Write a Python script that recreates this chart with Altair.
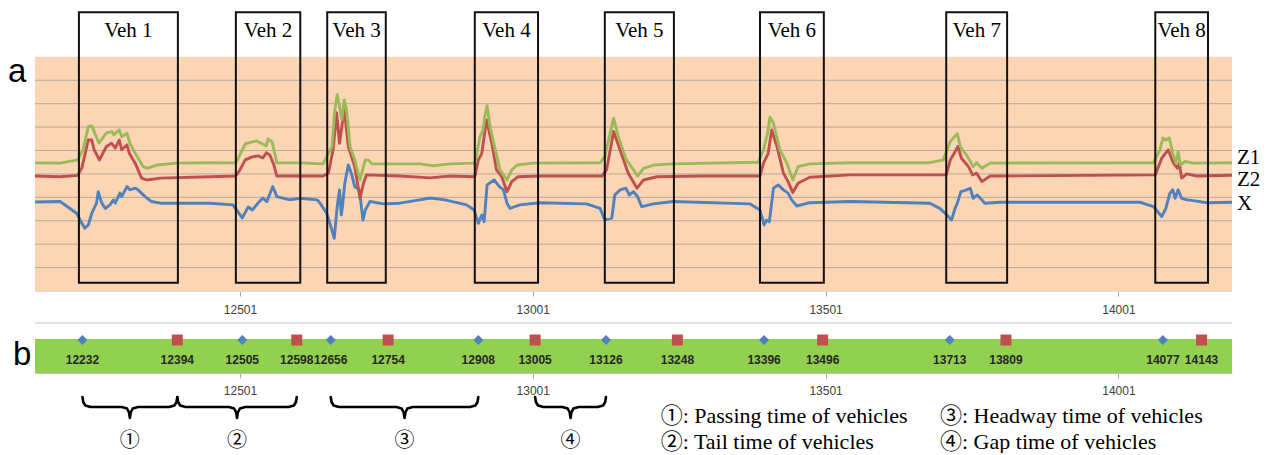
import altair as alt
import pandas as pd

# ---------------- data ----------------
# sample index (time) and signal level of the three magnetic axes
z1_t = [12151, 12194, 12224, 12233, 12242, 12248, 12253, 12260, 12273, 12282, 12286, 12295, 12299, 12308, 12313, 12322, 12336, 12342, 12359, 12393, 12450,
        12494, 12501, 12510, 12522, 12530, 12539, 12546, 12549, 12556, 12559, 12564, 12604,
        12643, 12658, 12663, 12667, 12671, 12675, 12679, 12683, 12689, 12697, 12706, 12709, 12715, 12720, 12726, 12808, 12831, 12860,
        12902, 12911, 12916, 12919, 12923, 12928, 12937, 12945, 12957, 12965, 12974, 13002,
        13116, 13124, 13139, 13147, 13161, 13173, 13180, 13190, 13207, 13241,
        13386, 13395, 13402, 13406, 13412, 13423, 13435, 13445, 13454, 13474, 13543,
        13679, 13702, 13714, 13719, 13726, 13731, 13745, 13753, 13759, 13768, 13782,
        14061, 14072, 14077, 14082, 14088, 14094, 14099, 14103, 14107, 14115, 14129, 14195]
z1_v = [5.47, 5.46, 5.60, 6.03, 7.02, 7.05, 6.75, 6.32, 6.75, 6.81, 6.67, 6.88, 6.59, 6.74, 6.31, 5.88, 5.31, 5.24, 5.38, 5.46, 5.48,
        5.47, 5.81, 6.28, 6.37, 6.41, 6.28, 6.20, 6.50, 6.37, 6.03, 5.47, 5.47,
        5.43, 6.17, 7.74, 8.38, 7.88, 7.31, 8.16, 7.74, 6.17, 5.60, 4.74, 5.04, 5.60, 5.60, 5.43, 5.43, 5.35, 5.43,
        5.46, 6.59, 6.88, 7.45, 7.91, 7.02, 6.03, 5.17, 4.74, 5.17, 5.38, 5.46,
        5.48, 5.74, 7.38, 6.59, 5.60, 5.17, 4.91, 5.24, 5.38, 5.43,
        5.50, 6.03, 6.74, 7.42, 7.17, 6.03, 5.46, 4.74, 5.31, 5.43, 5.48,
        5.48, 5.60, 6.38, 6.53, 6.71, 6.17, 5.67, 5.31, 5.48, 5.24, 5.46,
        5.48, 6.03, 6.53, 6.45, 6.53, 5.88, 5.46, 5.95, 5.38, 5.53, 5.46, 5.48]

z2_t = [12151, 12194, 12224, 12231, 12242, 12248, 12252, 12261, 12273, 12282, 12288, 12295, 12299, 12308, 12312, 12322, 12333, 12342, 12365, 12450,
        12494, 12501, 12510, 12522, 12532, 12540, 12546, 12552, 12559, 12564, 12604,
        12643, 12652, 12660, 12666, 12671, 12675, 12679, 12686, 12697, 12706, 12712, 12717, 12774, 12826, 12860,
        12902, 12908, 12914, 12922, 12931, 12939, 12948, 12957, 12965, 12976, 13013,
        13119, 13127, 13139, 13150, 13164, 13179, 13190, 13213, 13287,
        13389, 13395, 13403, 13409, 13418, 13429, 13437, 13445, 13454, 13474, 13543,
        13707, 13714, 13722, 13727, 13733, 13745, 13752, 13759, 13768, 13782,
        14064, 14075, 14086, 14095, 14102, 14105, 14109, 14118, 14135, 14195]
z2_v = [4.91, 4.88, 4.94, 5.26, 6.45, 6.45, 6.03, 5.60, 6.17, 6.31, 6.10, 6.45, 6.03, 6.24, 5.88, 5.46, 4.82, 4.74, 4.82, 4.88,
        4.91, 5.17, 5.60, 5.73, 5.77, 5.68, 5.90, 5.81, 5.38, 4.91, 4.91,
        4.91, 5.03, 6.03, 7.61, 6.31, 7.02, 7.82, 6.17, 5.31, 3.96, 4.60, 4.96, 4.91, 4.83, 4.91,
        4.88, 5.60, 5.88, 7.31, 6.31, 5.17, 4.88, 4.24, 4.67, 4.88, 4.91,
        4.91, 5.17, 6.81, 6.03, 5.03, 4.39, 4.74, 4.88, 4.91,
        4.91, 5.46, 5.88, 6.88, 6.17, 5.03, 4.67, 4.20, 4.60, 4.86, 4.96,
        4.96, 5.60, 5.95, 6.17, 5.67, 5.31, 4.96, 5.03, 4.67, 4.91,
        4.96, 5.67, 6.03, 5.46, 5.24, 5.46, 4.82, 5.00, 4.91, 4.94]

x_t = [12151, 12194, 12222, 12231, 12236, 12242, 12248, 12256, 12259, 12265, 12271, 12279, 12285, 12288, 12296, 12299, 12308, 12313, 12322, 12327, 12339, 12350, 12365, 12450,
       12489, 12505, 12515, 12522, 12532, 12540, 12547, 12557, 12564, 12586, 12604, 12633,
       12638, 12649, 12658, 12662, 12667, 12671, 12674, 12676, 12680, 12686, 12692, 12697, 12705, 12711, 12715, 12723, 12746, 12774, 12808, 12826, 12851,
       12888, 12901, 12908, 12914, 12918, 12923, 12935, 12944, 12951, 12957, 12962, 12979, 13013,
       13093, 13116, 13124, 13136, 13141, 13150, 13160, 13166, 13173, 13180, 13187, 13207, 13241,
       13372, 13389, 13396, 13400, 13405, 13412, 13420, 13429, 13437, 13443, 13452, 13474, 13543,
       13679, 13696, 13708, 13716, 13722, 13726, 13732, 13742, 13748, 13753, 13760, 13773, 13799,
       14038, 14061, 14075, 14082, 14089, 14094, 14098, 14103, 14109, 14118, 14129, 14152, 14195]
x_v = [3.80, 3.82, 3.32, 2.89, 2.68, 2.82, 3.32, 3.75, 4.24, 3.75, 3.53, 3.68, 3.89, 3.75, 4.18, 4.03, 4.46, 4.32, 4.39, 4.32, 4.03, 3.82, 3.75, 3.75,
       3.68, 3.12, 3.59, 3.46, 3.76, 3.97, 3.82, 4.46, 4.03, 3.89, 3.96, 3.89,
       3.75, 3.32, 2.61, 2.25, 3.60, 4.32, 3.25, 3.60, 4.60, 5.38, 4.96, 4.46, 4.32, 3.03, 3.46, 3.82, 3.72, 3.75, 3.89, 3.97, 3.89,
       3.68, 3.46, 2.89, 3.25, 2.96, 4.53, 4.74, 4.46, 4.32, 3.75, 3.53, 3.68, 3.77,
       3.72, 3.53, 3.03, 3.11, 4.10, 4.32, 4.39, 4.10, 4.24, 4.03, 3.60, 3.72, 3.82,
       3.72, 3.46, 2.82, 3.03, 2.96, 4.39, 4.53, 4.32, 4.18, 3.89, 3.63, 3.77, 3.82,
       3.75, 3.53, 3.25, 3.03, 3.53, 3.75, 4.24, 4.32, 4.39, 3.96, 4.10, 3.75, 3.79,
       3.79, 3.60, 3.18, 3.53, 4.18, 4.32, 3.96, 4.32, 3.96, 3.89, 3.86, 3.77, 3.79]

veh_names = ["Veh 1", "Veh 2", "Veh 3", "Veh 4", "Veh 5", "Veh 6", "Veh 7", "Veh 8"]
box_start = [12226, 12494, 12650, 12902, 13124, 13389, 13707, 14064]
box_end = [12395, 12604, 12750, 13010, 13242, 13498, 13811, 14154]

start_times = [12232, 12505, 12656, 12908, 13126, 13396, 13713, 14077]
end_times = [12394, 12598, 12754, 13005, 13248, 13496, 13809, 14143]

tick_values = [12501, 13001, 13501, 14001]
grid_levels = [1, 2, 3, 4, 5, 6, 7, 8, 9]

brace_from = [12232, 12394, 12656, 13005]
brace_to = [12394, 12598, 12908, 13126]
brace_marks = ["①", "②", "③", "④"]
legend_lines = ["①: Passing time of vehicles", "②: Tail time of vehicles",
                "③: Headway time of vehicles", "④: Gap time of vehicles"]

assert len(z1_t) == len(z1_v) and len(z2_t) == len(z2_v) and len(x_t) == len(x_v)

# ---------------- layout / style ----------------
W = 1197
HA = 281
HB = 127
SERIF = "Liberation Serif"
SERIF_CJK = "'Liberation Serif', 'Noto Sans CJK JP'"
CJK = "Noto Sans CJK JP"
SANS = "Liberation Sans"

xs = alt.Scale(domain=[12151, 14195], nice=False, zero=False)
ysA = alt.Scale(domain=[0, 12], nice=False, zero=False)
ysB = alt.Scale(domain=[-77, 50], nice=False, zero=False)


def x_axis(offset, pad, domain_color):
    return alt.Axis(values=tick_values, format="d", title=None, grid=False,
                    tickSize=5, tickColor="#A6A6A6", domainColor=domain_color,
                    labelFont=SANS, labelFontSize=12, labelColor="#404040",
                    labelPadding=pad, offset=offset, labelFlush=False)


axA = x_axis(0, 8, "#D9D9D9")
axB = x_axis(-77, 7, "#BFBFBF")
one = pd.DataFrame({"k": [0]})

# ---------------- panel a ----------------
bg = alt.Chart(one).mark_rect(color="#FCD5B4").encode(
    x=alt.value(0), x2=alt.value(W),
    y=alt.Y(datum=0, scale=ysA, axis=None), y2=alt.datum(10))

grid = alt.Chart(pd.DataFrame({"g": grid_levels})).mark_rule(
    color="#B5A89D", strokeWidth=1).encode(y=alt.Y("g:Q", scale=ysA, axis=None))

series = [("X", x_t, x_v, "#4F81BD", 2), ("Z2", z2_t, z2_v, "#C0504D", 4.5), ("Z1", z1_t, z1_v, "#9BBB59", -5)]
line_layers = []
label_layers = []
for name, t, v, col, dy in series:
    df = pd.DataFrame({"t": t, "v": v})
    line_layers.append(
        alt.Chart(df).mark_line(color=col, strokeWidth=2.9, strokeJoin="round").encode(
            x=alt.X("t:Q", scale=xs, axis=axA),
            y=alt.Y("v:Q", scale=ysA, axis=None)))
    last = pd.DataFrame({"t": [t[-1]], "v": [v[-1]], "s": [name]})
    label_layers.append(
        alt.Chart(last).mark_text(align="left", baseline="middle", dx=5, dy=dy,
                                  font=SERIF, fontSize=21, color="black").encode(
            x=alt.X("t:Q", scale=xs, axis=axA),
            y=alt.Y("v:Q", scale=ysA, axis=None),
            text="s:N"))

vdf = pd.DataFrame({"name": veh_names, "start": box_start, "end": box_end})
vdf["mid"] = (vdf["start"] + vdf["end"]) / 2

boxes = alt.Chart(vdf).mark_rect(fillOpacity=0, stroke="#111111", strokeWidth=2).encode(
    x=alt.X("start:Q", scale=xs, axis=axA), x2="end:Q",
    y=alt.Y(datum=0.35, scale=ysA, axis=None), y2=alt.datum(11.9))

veh_text = alt.Chart(vdf).mark_text(font=SERIF, fontSize=21, baseline="alphabetic", color="black").encode(
    x=alt.X("mid:Q", scale=xs, axis=axA),
    y=alt.Y(datum=10.85, scale=ysA, axis=None),
    text="name:N")

a_label = alt.Chart(one).mark_text(text="a", font=SANS, fontSize=33, align="left",
                                   baseline="alphabetic", color="black").encode(
    x=alt.value(-27), y=alt.value(72))

panel_a = alt.layer(bg, grid, *line_layers, boxes, veh_text, *label_layers, a_label).properties(
    width=W, height=HA)

# ---------------- panel b ----------------
top_rule = alt.Chart(one).mark_rule(color="#C8C8C8", strokeWidth=1).encode(
    y=alt.Y(datum=50, scale=ysB, axis=None))

band = alt.Chart(one).mark_rect(color="#92D050").encode(
    x=alt.value(0), x2=alt.value(W),
    y=alt.Y(datum=0, scale=ysB, axis=None), y2=alt.datum(34))

diamonds = alt.Chart(pd.DataFrame({"t": start_times})).mark_point(
    shape="diamond", filled=True, size=100, color="#4F81BD", opacity=1).encode(
    x=alt.X("t:Q", scale=xs, axis=axB), y=alt.Y(datum=33, scale=ysB, axis=None))

squares = alt.Chart(pd.DataFrame({"t": end_times})).mark_point(
    shape="square", filled=True, size=121, color="#C0504D", opacity=1).encode(
    x=alt.X("t:Q", scale=xs, axis=axB), y=alt.Y(datum=33, scale=ysB, axis=None))

time_labels = alt.Chart(pd.DataFrame({"t": start_times + end_times})).mark_text(
    font=SANS, fontSize=12, fontWeight="bold", color="#262626", baseline="middle").encode(
    x=alt.X("t:Q", scale=xs, axis=axB), y=alt.Y(datum=13, scale=ysB, axis=None),
    text=alt.Text("t:Q", format="d"))

# curly braces built from their start / end times
rows = []
d = 14
for i, (a, b) in enumerate(zip(brace_from, brace_to)):
    m = (a + b) / 2
    pts = [(a, -24), (a + 0.1 * d, -29), (a + 0.35 * d, -32.5), (a + d, -34),
           (m - d, -34), (m - 0.35 * d, -35.5), (m - 0.1 * d, -39.5), (m, -45),
           (m + 0.1 * d, -39.5), (m + 0.35 * d, -35.5), (m + d, -34),
           (b - d, -34), (b - 0.35 * d, -32.5), (b - 0.1 * d, -29), (b, -24)]
    for k, (px, py) in enumerate(pts):
        rows.append({"id": i, "k": k, "t": px, "y": py})
brace_df = pd.DataFrame(rows)

braces = alt.Chart(brace_df).mark_line(color="black", strokeWidth=2.6, strokeCap="round",
                                       strokeJoin="round").encode(
    x=alt.X("t:Q", scale=xs, axis=axB), y=alt.Y("y:Q", scale=ysB, axis=None),
    detail="id:N", order="k:Q")

bn = pd.DataFrame({"mid": [(a + b) / 2 for a, b in zip(brace_from, brace_to)], "lab": brace_marks})
brace_nums = alt.Chart(bn).mark_text(font=CJK, fontSize=20, baseline="middle", color="black").encode(
    x=alt.X("mid:Q", scale=xs, axis=axB), y=alt.Y(datum=-68, scale=ysB, axis=None), text="lab:N")

legend_pos = [(625.7, 100), (625.7, 126), (905, 100), (905, 126)]
legend_layers = [
    alt.Chart(one).mark_text(text=txt, font=SERIF_CJK, fontSize=22, align="left",
                             baseline="alphabetic", color="black").encode(
        x=alt.value(px), y=alt.value(py))
    for txt, (px, py) in zip(legend_lines, legend_pos)
]

b_label = alt.Chart(one).mark_text(text="b", font=SANS, fontSize=33, align="left",
                                   baseline="alphabetic", color="black").encode(
    x=alt.value(-22), y=alt.value(42))

panel_b = alt.layer(top_rule, band, diamonds, squares, time_labels, braces, brace_nums,
                    *legend_layers, b_label).properties(width=W, height=HB)

chart = alt.vconcat(panel_a, panel_b, spacing=32, bounds="flush").properties(
    padding={"left": 0, "top": 2, "right": 0, "bottom": 0}
).configure_view(stroke=None)

chart.save("out.html", embed_options={"renderer": "svg", "actions": False})
